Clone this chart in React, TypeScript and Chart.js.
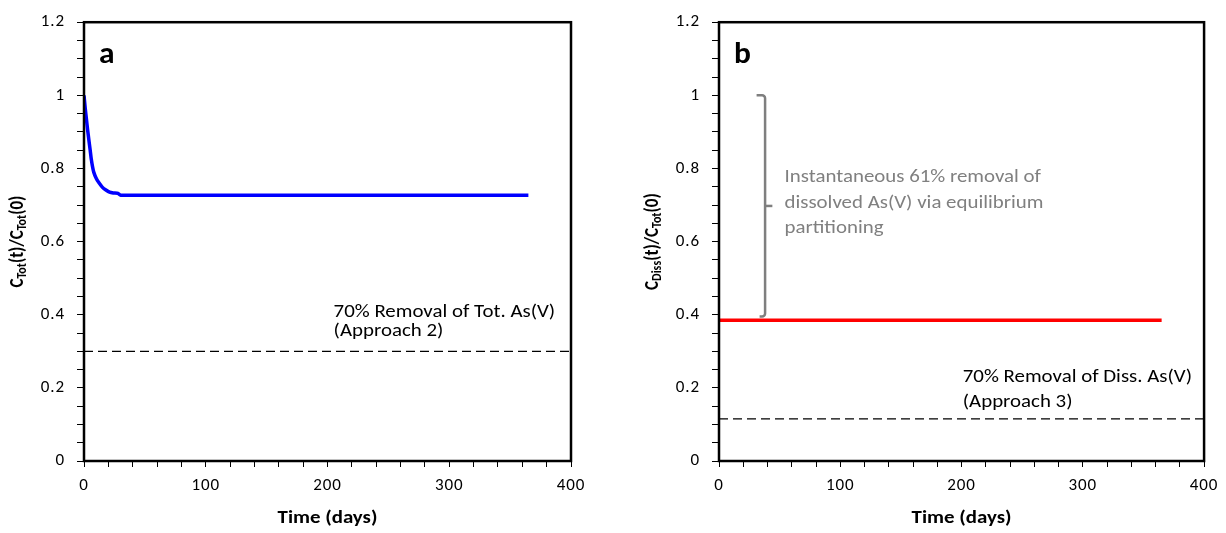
import React, { useEffect, useRef } from "react";
import { Chart, registerables } from "chart.js";
Chart.register(...registerables);

// ---------- data ----------
const blueTimes = [0, 1, 2, 3, 4, 5, 6, 7, 8, 10, 12, 15, 18, 21, 24, 28, 30, 365];
const blueValues = [1.0, 0.965, 0.935, 0.905, 0.878, 0.852, 0.825, 0.805, 0.79, 0.773, 0.762, 0.749, 0.741, 0.735, 0.733, 0.732, 0.727, 0.727];
const redTimes = [0, 365];
const redValues = [0.385, 0.385];
const thresholdTimes = [0, 400];
const thresholdA = [0.3, 0.3];
const thresholdB = [0.115, 0.115];
const xMin = 0;
const xMax = 400;
const yMin = 0;
const yMax = 1.2;
const xStep = 20;
const xLabelEvery = 100;
const yStep = 0.05;
const yLabelEvery = 0.2;
const annotationA = ["70% Removal of Tot. As(V)", "(Approach 2)"];
const annotationB = ["70% Removal of Diss. As(V)", "(Approach 3)"];
const bracketText = ["Instantaneous 61% removal of", "dissolved As(V) via equilibrium", "partitioning"];
const bracketTopValue = 1.0;
const bracketBottomValue = 0.395;

const FONT = "Carlito, Lato, 'Open Sans', sans-serif";
const TICK_SPACING = "0.9px";
const STRETCH = 1.16;
const W = 613;
const H = 533;

type Piece = { t: string; sub?: boolean };

interface PanelCfg {
  left: number;
  axisWidth: number;
  padRight: number;
  letter: string;
  yTitle: Piece[];
  series: { x: number[]; y: number[]; color: string };
  threshold: number[];
  annot: string[];
  annotX: number;
  annotY: number[];
  bracket: boolean;
}

const panels: PanelCfg[] = [
  {
    left: 0,
    axisWidth: 84,
    padRight: 42,
    letter: "a",
    yTitle: [{ t: "C" }, { t: "Tot", sub: true }, { t: "(t)/" }, { t: "C" }, { t: "Tot", sub: true }, { t: "(0)" }],
    series: { x: blueTimes, y: blueValues, color: "#0000ff" },
    threshold: thresholdA,
    annot: annotationA,
    annotX: 205,
    annotY: [0.405, 0.355],
    bracket: false,
  },
  {
    left: 613,
    axisWidth: 106,
    padRight: 21,
    letter: "b",
    yTitle: [{ t: "C" }, { t: "Diss", sub: true }, { t: "(t)/" }, { t: "C" }, { t: "Tot", sub: true }, { t: "(0)" }],
    series: { x: redTimes, y: redValues, color: "#ff0000" },
    threshold: thresholdB,
    annot: annotationB,
    annotX: 201,
    annotY: [0.228, 0.16],
    bracket: true,
  },
];

function stretchText(ctx: CanvasRenderingContext2D, text: string, x: number, y: number, sx: number) {
  ctx.save();
  ctx.translate(x, y);
  ctx.scale(sx, 1);
  ctx.fillText(text, 0, 0);
  ctx.restore();
}

function makePlugin(cfg: PanelCfg) {
  return {
    id: "decor" + cfg.letter,
    beforeDraw(chart: any) {
      (chart.ctx as any).letterSpacing = TICK_SPACING;
    },
    afterDraw(chart: any) {
      const ctx: CanvasRenderingContext2D = chart.ctx;
      const ca = chart.chartArea;
      const xs = chart.scales.x;
      const ys = chart.scales.y;
      ctx.save();
      (ctx as any).letterSpacing = "0px";
      // frame
      ctx.strokeStyle = "#000";
      ctx.lineWidth = 2.5;
      ctx.strokeRect(ca.left, ca.top, ca.right - ca.left, ca.bottom - ca.top);

      // panel letter
      ctx.fillStyle = "#000";
      ctx.font = `bold 30px ${FONT}`;
      ctx.textAlign = "left";
      ctx.textBaseline = "alphabetic";
      stretchText(ctx, cfg.letter, ca.left + 15, ca.top + 41, 1.05);

      // annotation
      ctx.font = `18px ${FONT}`;
      ctx.textBaseline = "middle";
      cfg.annot.forEach((line, i) => {
        stretchText(ctx, line, xs.getPixelForValue(cfg.annotX), ys.getPixelForValue(cfg.annotY[i]), STRETCH);
      });

      // bracket
      if (cfg.bracket) {
        const bx = xs.getPixelForValue(38);
        const hx = xs.getPixelForValue(31);
        const tx = xs.getPixelForValue(44);
        const yt = ys.getPixelForValue(bracketTopValue);
        const yb = ys.getPixelForValue(bracketBottomValue);
        const ym = (yt + yb) / 2;
        ctx.strokeStyle = "#7f7f7f";
        ctx.lineWidth = 2.5;
        ctx.lineJoin = "round";
        ctx.beginPath();
        ctx.moveTo(hx, yt);
        ctx.arcTo(bx, yt, bx, yt + 4, 3);
        ctx.lineTo(bx, yb - 3);
        ctx.arcTo(bx, yb, hx, yb, 3);
        ctx.lineTo(hx + 3, yb);
        ctx.stroke();
        ctx.beginPath();
        ctx.moveTo(bx, ym);
        ctx.lineTo(tx, ym);
        ctx.stroke();
        ctx.fillStyle = "#808080";
        ctx.font = `18px ${FONT}`;
        const textX = xs.getPixelForValue(54);
        const vals = [0.774, 0.703, 0.635];
        bracketText.forEach((line, i) => {
          stretchText(ctx, line, textX, ys.getPixelForValue(vals[i]), STRETCH);
        });
      }

      // x title
      ctx.fillStyle = "#000";
      ctx.font = `bold 18px ${FONT}`;
      ctx.textAlign = "center";
      ctx.textBaseline = "middle";
      stretchText(ctx, "Time (days)", (ca.left + ca.right) / 2, ca.bottom + 57, STRETCH);

      // y title with subscripts
      const mainFont = `bold 17px ${FONT}`;
      const subFont = `bold 12px ${FONT}`;
      let total = 0;
      const widths = cfg.yTitle.map((p) => {
        ctx.font = p.sub ? subFont : mainFont;
        const w = ctx.measureText(p.t).width;
        total += w;
        return w;
      });
      ctx.translate(ca.left - 66, (ca.top + ca.bottom) / 2);
      ctx.rotate(-Math.PI / 2);
      ctx.scale(1, STRETCH);
      ctx.textAlign = "left";
      ctx.textBaseline = "middle";
      let cx = -total / 2;
      cfg.yTitle.forEach((p, i) => {
        ctx.font = p.sub ? subFont : mainFont;
        ctx.fillText(p.t, cx, p.sub ? 4 : 0);
        cx += widths[i];
      });
      ctx.restore();
    },
  };
}

function Panel({ cfg }: { cfg: PanelCfg }) {
  const ref = useRef<HTMLCanvasElement>(null);
  useEffect(() => {
    if (!ref.current) return;
    const chart = new Chart(ref.current, {
      type: "line",
      data: {
        datasets: [
          {
            data: cfg.series.x.map((x, i) => ({ x, y: cfg.series.y[i] })),
            borderColor: cfg.series.color,
            borderWidth: 3.5,
            pointRadius: 0,
            tension: 0.2,
            fill: false,
          },
          {
            data: thresholdTimes.map((x, i) => ({ x, y: cfg.threshold[i] })),
            borderColor: "#000",
            borderWidth: 1.3,
            borderDash: [9, 5],
            pointRadius: 0,
            fill: false,
          },
        ],
      },
      options: {
        animation: false,
        responsive: false,
        maintainAspectRatio: false,
        layout: { padding: { left: 0, right: cfg.padRight, top: 19, bottom: 0 } },
        plugins: { legend: { display: false }, tooltip: { enabled: false } },
        scales: {
          x: {
            type: "linear",
            min: xMin,
            max: xMax,
            ticks: {
              stepSize: xStep,
              autoSkip: false,
              maxRotation: 0,
              maxTicksLimit: 100,
              color: "#000",
              padding: 9,
              font: { family: FONT, size: 17 },
              callback: (v: any) => (Math.round(v) % xLabelEvery === 0 ? String(Math.round(v)) : ""),
            },
            grid: { drawOnChartArea: false, drawTicks: true, tickLength: 6, color: "#000", lineWidth: 1 },
            border: { display: false },
            afterFit: (s: any) => {
              s.height = H - 461;
            },
          },
          y: {
            type: "linear",
            min: yMin,
            max: yMax,
            ticks: {
              stepSize: yStep,
              autoSkip: false,
              maxTicksLimit: 100,
              color: "#000",
              padding: 12,
              font: { family: FONT, size: 17 },
              callback: (v: any) => {
                const r = Math.round(v / yStep);
                const every = Math.round(yLabelEvery / yStep);
                return r % every === 0 ? String(Number((r * yStep).toFixed(1))) : "";
              },
            },
            grid: { drawOnChartArea: false, drawTicks: true, tickLength: 7, color: "#000", lineWidth: 1 },
            border: { display: false },
            afterFit: (s: any) => {
              s.width = cfg.axisWidth;
            },
          },
        },
      } as any,
      plugins: [makePlugin(cfg)],
    });
    return () => chart.destroy();
  }, [cfg]);
  return (
    <canvas
      ref={ref}
      width={W}
      height={H}
      style={{ position: "absolute", left: cfg.left, top: 0, width: W, height: H }}
    />
  );
}

export default function App() {
  return (
    <div style={{ position: "absolute", left: 0, top: 0, width: 1226, height: 533, background: "#fff" }}>
      {panels.map((p) => (
        <Panel key={p.letter} cfg={p} />
      ))}
    </div>
  );
}
